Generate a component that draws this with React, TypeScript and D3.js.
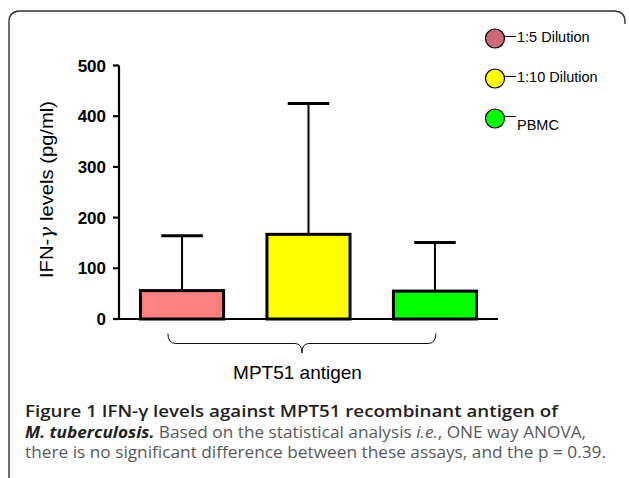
import React from "react";
import * as d3 from "d3";

const categories = ["1:5 Dilution", "1:10 Dilution", "PBMC"];
const means = [56, 167, 55];
const errorTops = [164, 425, 151];
const barColors = ["#ff8080", "#ffff00", "#00ff00"];
const legendColors = ["#cd6a78", "#ffff00", "#00ff00"];
const yTicks = [0, 100, 200, 300, 400, 500];
const groupLabel = "MPT51 antigen";

const W = 629;
const H = 478;

export default function App() {
  const x = d3
    .scaleBand<string>()
    .domain(categories)
    .range([119, 498])
    .paddingInner(0.343)
    .paddingOuter(0.17);
  const y = d3.scaleLinear().domain([0, 500]).range([319, 65.5]);
  const bw = x.bandwidth();

  const first = categories[0];
  const last = categories[categories.length - 1];
  const bx0 = (x(first) as number) + bw * 0.33;
  const bx1 = (x(last) as number) + bw * 0.5 + 1;
  const bm = (bx0 + bx1) / 2;
  const byTop = 333.5;
  const byMid = 343.5;
  const byTip = 353;
  const bracePath = d3.path();
  bracePath.moveTo(bx0, byTop);
  bracePath.quadraticCurveTo(bx0, byMid, bx0 + 8, byMid);
  bracePath.lineTo(bm - 7, byMid);
  bracePath.quadraticCurveTo(bm, byMid, bm, byTip);
  bracePath.quadraticCurveTo(bm, byMid, bm + 7, byMid);
  bracePath.lineTo(bx1 - 8, byMid);
  bracePath.quadraticCurveTo(bx1, byMid, bx1, byTop);

  const legendY = [38.5, 78.5, 118.5];

  return (
    <svg
      width={W}
      height={H}
      style={{ position: "absolute", left: 0, top: 0, background: "#fff" }}
      fontFamily="'Liberation Sans', Arial, Helvetica, sans-serif"
    >
      {/* frame */}
      <path
        d={`M9,${H + 5} L9,22 Q9,11 20,11 L614,11 Q625,11 625,22 L625,24`}
        fill="none"
        stroke="#333"
        strokeWidth={1.4}
      />

      {/* y axis */}
      <line x1={119} x2={119} y1={y(500)} y2={y(0)} stroke="#000" strokeWidth={2.2} />
      {yTicks.map((t) => (
        <g key={t}>
          <line x1={113} x2={119} y1={y(t)} y2={y(t)} stroke="#000" strokeWidth={2.2} />
          <text
            x={106}
            y={y(t)}
            dy="0.36em"
            textAnchor="end"
            fontWeight="bold"
            fontSize={17}
            fill="#000"
          >
            {t}
          </text>
        </g>
      ))}
      <text
        transform={`translate(53,${189.5}) rotate(-90)`}
        textAnchor="middle"
        fontSize={19}
        fill="#000"
        textLength={177}
        lengthAdjust="spacingAndGlyphs"
      >
        <tspan>IFN-</tspan>
        <tspan fontStyle="italic" fontFamily="'DejaVu Serif', serif">γ</tspan>
        <tspan> levels (pg/ml)</tspan>
      </text>

      {/* error bars */}
      {categories.map((c, i) => {
        const cx = (x(c) as number) + bw / 2;
        return (
          <g key={"e" + c}>
            <line x1={cx} x2={cx} y1={y(means[i])} y2={y(errorTops[i])} stroke="#000" strokeWidth={2} />
            <line
              x1={cx - bw * 0.25}
              x2={cx + bw * 0.25}
              y1={y(errorTops[i])}
              y2={y(errorTops[i])}
              stroke="#000"
              strokeWidth={3}
            />
          </g>
        );
      })}

      {/* bars */}
      {categories.map((c, i) => (
        <rect
          key={c}
          x={x(c) as number}
          y={y(means[i])}
          width={bw}
          height={y(0) - y(means[i])}
          fill={barColors[i]}
          stroke="#000"
          strokeWidth={3}
        />
      ))}

      {/* x baseline */}
      <line x1={118} x2={498} y1={y(0)} y2={y(0)} stroke="#000" strokeWidth={2.2} />

      {/* brace */}
      <path d={bracePath.toString()} fill="none" stroke="#111" strokeWidth={1} />
      <text x={297.5} y={378.5} textAnchor="middle" fontSize={19} fill="#000">
        {groupLabel}
      </text>

      {/* legend */}
      {categories.map((c, i) => (
        <g key={"l" + c}>
          <circle cx={495} cy={legendY[i]} r={9.5} fill={legendColors[i]} stroke="#000" strokeWidth={1.2} />
          <line
            x1={505}
            x2={516}
            y1={legendY[i] - 2}
            y2={legendY[i] - 2}
            stroke="#000"
            strokeWidth={1}
          />
          <text
            x={517}
            y={i === 2 ? legendY[i] + 11 : legendY[i] + 3.5}
            fontSize={14.5}
            fill="#000"
          >
            {c}
          </text>
        </g>
      ))}

      {/* caption */}
      <g fontFamily="'Open Sans', 'Noto Sans', sans-serif" fontSize={15.5}>
        <text x={25} y={417} fontWeight={600} fill="#231f20" textLength={533} lengthAdjust="spacingAndGlyphs">
          Figure 1 IFN-γ levels against MPT51 recombinant antigen of
        </text>
        <text x={25} y={437.5} fill="#58595b" textLength={561} lengthAdjust="spacingAndGlyphs">
          <tspan fontWeight={700} fontStyle="italic" fill="#231f20">M. tuberculosis.</tspan>
          <tspan> Based on the statistical analysis </tspan>
          <tspan fontStyle="italic">i.e.</tspan>
          <tspan>, ONE way ANOVA,</tspan>
        </text>
        <text x={25} y={458} fill="#58595b" textLength={581} lengthAdjust="spacingAndGlyphs">
          there is no significant difference between these assays, and the p = 0.39.
        </text>
      </g>
    </svg>
  );
}
